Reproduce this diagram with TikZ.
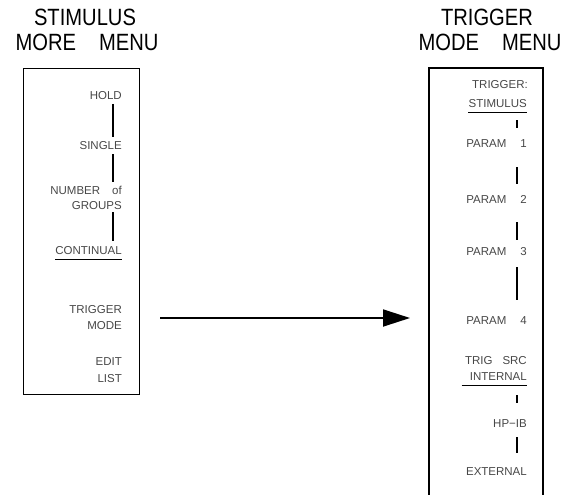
\documentclass[tikz,border=0pt]{standalone}
\usepackage{fontspec}
\usepackage{graphicx}
\setmainfont{Liberation Sans}
\usetikzlibrary{arrows.meta}
\newcommand{\tall}[1]{\scalebox{0.96}[1.12]{#1}}
\begin{document}
\begin{tikzpicture}[x=1pt,y=-1pt,
  title/.style={font=\fontsize{21}{24}\selectfont, inner sep=0},
  item/.style={font=\fontsize{11.5}{13}\selectfont, text=black!72, inner sep=0, anchor=east},
  bar/.style={line width=1.1pt},
  uline/.style={line width=1.3pt},
  frame/.style={line width=1.1pt}]
\useasboundingbox (0,0) rectangle (568,495);
% titles
\node[title] (t1) at (85,17.5) {\tall{STIMULUS}};
\node[title] (t2) at (87,42) {\tall{MORE\hspace{24pt}MENU}};
\node[title] (t3) at (487,17.5) {\tall{TRIGGER}};
\node[title] (t4) at (490,42) {\tall{MODE\hspace{24pt}MENU}};
% left box
\node[draw, frame, minimum width=116, minimum height=326, anchor=north west, inner sep=0] (lbox) at (23,68) {};
\node[item] (hold) at (122,96) {HOLD};
\node[item] (single) at (122,146) {SINGLE};
\node[item] (num) at (122,190) {NUMBER\hspace{12pt}of};
\node[item] (groups) at (122,206) {GROUPS};
\node[item] (cont) at (122,251) {CONTINUAL};
\node[item] (trig) at (122,310) {TRIGGER};
\node[item] (mode) at (122,326) {MODE};
\node[item] (edit) at (122,362) {EDIT};
\node[item] (list) at (122,379) {LIST};
\draw[bar] (113,104) -- (113,137);
\draw[bar] (113,154) -- (113,182);
\draw[bar] (113,212) -- (113,241);
\draw[uline] (cont.south west) ++(0,4) coordinate (u1) -- (u1 -| cont.east);
% arrow
\coordinate (a1) at (160,318);
\coordinate (a2) at (410,318);
\draw[line width=1.8pt, -{Triangle[length=27pt,width=17pt]}] (a1) -- (a2);
% right box (open at bottom)
\coordinate (r1) at (429,495);
\coordinate (r2) at (429,68);
\coordinate (r3) at (543,68);
\coordinate (r4) at (543,495);
\draw[frame] (r1) -- (r2) -- (r3) -- (r4);
\node[item] (tg) at (528,85) {TRIGGER:};
\node[item] (stim) at (527,104) {STIMULUS};
\draw[uline] (stim.south west) ++(0,4) coordinate (u2) -- (u2 -| stim.east);
\draw[bar] (517,120) -- (517,128);
\node[item] (p1) at (527,144) {PARAM\hspace{14pt}1};
\draw[bar] (517,167) -- (517,184);
\node[item] (p2) at (527,199) {PARAM\hspace{14pt}2};
\draw[bar] (517,222) -- (517,240);
\node[item] (p3) at (527,252) {PARAM\hspace{14pt}3};
\draw[bar] (517,267) -- (517,300);
\node[item] (p4) at (527,321) {PARAM\hspace{14pt}4};
\node[item] (ts) at (527,361) {TRIG\hspace{10pt}SRC};
\node[item] (int) at (527,377) {INTERNAL};
\draw[uline] (int.south west) ++(-8,4) coordinate (u3) -- (u3 -| int.east);
\draw[bar] (517,395) -- (517,403);
\node[item] (hp) at (527,424) {HP−IB};
\draw[bar] (517,437) -- (517,453);
\node[item] (ext) at (527,472) {EXTERNAL};
\end{tikzpicture}
\end{document}
